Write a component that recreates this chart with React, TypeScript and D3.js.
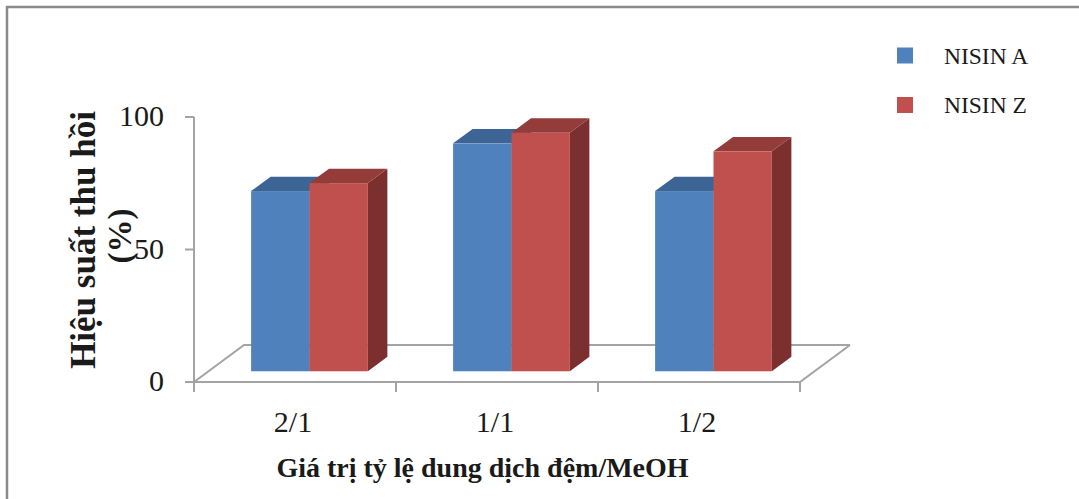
import React from "react";
import * as d3 from "d3";

// Ratio categories (buffer / MeOH) and recovery yields (%) for each nisin variant
const categories = ["2/1", "1/1", "1/2"];
const seriesNames = ["NISIN A", "NISIN Z"];
const nisinA = [68, 86, 68];
const nisinZ = [71, 90, 83];
const yTicks = [0, 50, 100];

const W = 1079;
const H = 499;
const FONT = "'Liberation Serif', 'Times New Roman', serif";

// Face colours: front, top, side
const palette = [
  { front: "#4f81bd", top: "#3c6595", side: "#2f5180" },
  { front: "#c0504d", top: "#933c3a", side: "#7b2f2f" },
];

export default function App() {
  const seriesValues = [nisinA, nisinZ];

  const x = d3.scaleBand<string>().domain(categories).range([194, 800]).padding(0);
  const y = d3.scaleLinear().domain([0, 100]).range([382, 117]);

  // oblique depth of the floor
  const depth = { dx: 50, dy: -37 };
  const tFront = 0.29;
  const tBack = 0.68;
  const off = { dx: depth.dx * tFront, dy: depth.dy * tFront };
  const bd = { dx: depth.dx * (tBack - tFront), dy: depth.dy * (tBack - tFront) };

  const groupW = x.bandwidth() * 0.578;
  const inner = d3
    .scaleBand<string>()
    .domain(seriesNames)
    .range([0, groupW])
    .padding(0);

  const x0 = x.range()[0];
  const x1 = x.range()[1];
  const y0 = y(0);
  const lineCol = "#a3a3a3";

  const bars: React.ReactNode[] = [];
  categories.forEach((c, ci) => {
    const gx = (x(c) as number) + (x.bandwidth() - groupW) / 2 + off.dx;
    seriesNames.forEach((s, si) => {
      const v = seriesValues[si][ci];
      const bx = gx + (inner(s) as number);
      const bw = inner.bandwidth();
      const top = y(v) + off.dy;
      const bottom = y0 + off.dy;
      const col = palette[si];
      const side = `M${bx + bw},${bottom} L${bx + bw + bd.dx},${bottom + bd.dy} L${bx + bw + bd.dx},${top + bd.dy} L${bx + bw},${top} Z`;
      const topFace = `M${bx},${top} L${bx + bd.dx},${top + bd.dy} L${bx + bw + bd.dx},${top + bd.dy} L${bx + bw},${top} Z`;
      bars.push(
        <g key={`${c}-${s}`}>
          <path d={side} fill={col.side} />
          <path d={topFace} fill={col.top} />
          <rect x={bx} y={top} width={bw} height={bottom - top} fill={col.front} />
        </g>
      );
    });
  });

  return (
    <svg
      width={W}
      height={H}
      style={{ position: "absolute", left: 0, top: 0, background: "#fff" }}
      fontFamily={FONT}
    >
      <rect x={0} y={0} width={W} height={H} fill="#fff" />
      {/* outer frame */}
      <path d={`M7,${H + 5} V7 H${W + 5}`} fill="none" stroke="#8a8a8a" strokeWidth={2.5} />

      {/* floor: back and left edges behind the bars */}
      <path
        d={`M${x0},${y0} L${x0 + depth.dx},${y0 + depth.dy} L${x1 + depth.dx},${y0 + depth.dy}`}
        fill="none"
        stroke={lineCol}
        strokeWidth={2}
      />

      {bars}

      {/* floor: front and right edges */}
      <path
        d={`M${x0},${y0} L${x1},${y0} L${x1 + depth.dx},${y0 + depth.dy}`}
        fill="none"
        stroke={lineCol}
        strokeWidth={2}
      />

      {/* value axis */}
      <line x1={x0} x2={x0} y1={y(100)} y2={y0 + 10} stroke={lineCol} strokeWidth={2} />
      {yTicks.map((t) => (
        <g key={t}>
          <line x1={x0 - 9} x2={x0} y1={y(t)} y2={y(t)} stroke={lineCol} strokeWidth={2} />
          <text
            x={164}
            y={y(t) - 1.5}
            textAnchor="end"
            dominantBaseline="central"
            fontSize={30}
            fill="#1a1a1a"
          >
            {t}
          </text>
        </g>
      ))}

      {/* category axis ticks and labels */}
      {x.domain().map((c) => (
        <line
          key={`t-${c}`}
          x1={(x(c) as number) + x.bandwidth()}
          x2={(x(c) as number) + x.bandwidth()}
          y1={y0}
          y2={y0 + 10}
          stroke={lineCol}
          strokeWidth={2}
        />
      ))}
      {categories.map((c) => (
        <text
          key={`l-${c}`}
          x={(x(c) as number) + x.bandwidth() / 2 - 2}
          y={432}
          textAnchor="middle"
          fontSize={30}
          fill="#1a1a1a"
        >
          {c}
        </text>
      ))}

      {/* axis titles */}
      <text x={482.5} y={477} textAnchor="middle" fontSize={28} fontWeight="bold" fill="#1a1a1a">
        Giá trị tỷ lệ dung dịch đệm/MeOH
      </text>
      <g transform="translate(0,240) rotate(-90)">
        <text x={0} y={95} textAnchor="middle" fontSize={35} fontWeight="bold" fill="#1a1a1a">
          Hiệu suất thu hồi
        </text>
        <text x={4} y={131} textAnchor="middle" fontSize={33} fontWeight="bold" fill="#1a1a1a">
          (%)
        </text>
      </g>

      {/* legend */}
      {seriesNames.map((s, i) => (
        <g key={`lg-${s}`} transform={`translate(897,${47.5 + i * 49.5})`}>
          <rect x={0} y={0} width={16} height={16} fill={palette[i].front} />
          <text x={47} y={16} fontSize={23.5} fill="#1a1a1a">
            {s}
          </text>
        </g>
      ))}
    </svg>
  );
}
